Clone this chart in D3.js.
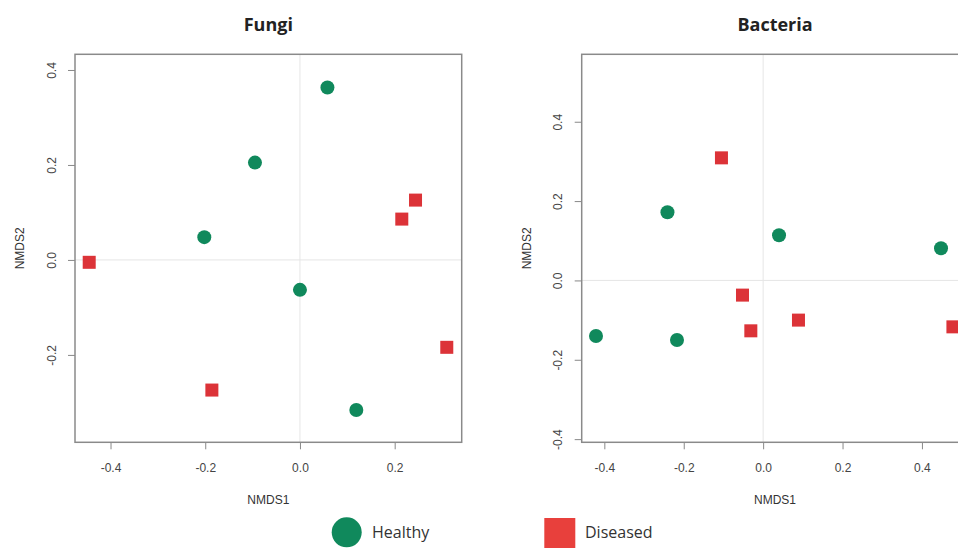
<!DOCTYPE html>
<html>
<head>
<meta charset="utf-8">
<script src="https://cdn.jsdelivr.net/npm/d3@7"></script>
<style>
    body { margin: 0; background: #fff; }
    svg { display: block; }
    .tick text { fill: #444; font-family: "Liberation Sans", Arial, sans-serif; font-size: 12px; }
    .tick line { stroke: #888; }
    .axisLabel { fill: #333; font-family: "Liberation Sans", Arial, sans-serif; font-size: 12px; }
    .title { fill: #222; font-family: "Open Sans", "Liberation Sans", sans-serif; font-weight: bold; font-size: 18px; }
    .legendText { fill: #333; font-family: "Open Sans", sans-serif; font-size: 16px; }
</style>
</head>
<body>
<svg id="chart" width="958" height="548"></svg>
<script>
// NMDS scores: [NMDS1, NMDS2]
var fungiHealthy = [[0.058, 0.363], [-0.095, 0.205], [-0.202, 0.048], [0.0, -0.063], [0.119, -0.316]];
var fungiDiseased = [[-0.445, -0.005], [0.244, 0.126], [0.215, 0.086], [0.31, -0.184], [-0.186, -0.274]];
var bacteriaHealthy = [[-0.241, 0.172], [0.040, 0.114], [0.448, 0.081], [-0.421, -0.140], [-0.217, -0.150]];
var bacteriaDiseased = [[-0.105, 0.309], [-0.052, -0.037], [-0.031, -0.127], [0.089, -0.100], [0.478, -0.117]];

var fungiXTicks = [-0.4, -0.2, 0.0, 0.2];
var fungiYTicks = [-0.2, 0.0, 0.2, 0.4];
var bacteriaXTicks = [-0.4, -0.2, 0.0, 0.2, 0.4];
var bacteriaYTicks = [-0.4, -0.2, 0.0, 0.2, 0.4];

var groups = ["Healthy", "Diseased"];
var green = "#10895c", red = "#dc3338";

var svg = d3.select("#chart");

/**
 * Draws one NMDS panel in R base-graphics style
 */
function drawPanel(p) {
    var x = d3.scaleLinear().domain(p.xDomain).range([p.left, p.right]);
    var y = d3.scaleLinear().domain(p.yDomain).range([p.bottom, p.top]);
    var g = svg.append("g");

    // faint reference lines through the origin
    g.append("line")
        .attr("x1", x(0)).attr("x2", x(0))
        .attr("y1", p.top).attr("y2", p.bottom)
        .attr("stroke", "#e6e6e6").attr("stroke-width", 1);
    g.append("line")
        .attr("x1", p.left).attr("x2", p.right)
        .attr("y1", y(0)).attr("y2", y(0))
        .attr("stroke", "#e6e6e6").attr("stroke-width", 1);

    // axes
    var xAxis = g.append("g")
        .attr("transform", "translate(0," + p.bottom + ")")
        .call(d3.axisBottom(x).tickValues(p.xTicks).tickFormat(d3.format(".1f"))
            .tickSize(7).tickPadding(14).tickSizeOuter(0));
    xAxis.select(".domain").remove();
    xAxis.selectAll("text").text(function(d) { return d3.format(".1f")(d).replace("−", "-"); });

    var yAxis = g.append("g")
        .attr("transform", "translate(" + p.left + ",0)")
        .call(d3.axisLeft(y).tickValues(p.yTicks).tickFormat(d3.format(".1f"))
            .tickSize(7).tickSizeOuter(0));
    yAxis.select(".domain").remove();
    yAxis.selectAll("text")
        .text(function(d) { return d3.format(".1f")(d).replace("−", "-"); })
        .attr("transform", "rotate(-90)")
        .attr("x", 0).attr("y", -19.5).attr("dy", 0)
        .style("text-anchor", "middle");

    // box
    g.append("rect")
        .attr("x", p.left).attr("y", p.top)
        .attr("width", p.right - p.left).attr("height", p.bottom - p.top)
        .attr("fill", "none").attr("stroke", "#8a8a8a").attr("stroke-width", 1.5);

    // points
    g.selectAll(".healthy")
        .data(p.healthy)
        .enter().append("circle")
        .attr("class", "healthy")
        .attr("cx", function(d) { return x(d[0]); })
        .attr("cy", function(d) { return y(d[1]); })
        .attr("r", 7)
        .attr("fill", green);

    g.selectAll(".diseased")
        .data(p.diseased)
        .enter().append("rect")
        .attr("class", "diseased")
        .attr("x", function(d) { return x(d[0]) - 6.5; })
        .attr("y", function(d) { return y(d[1]) - 6.5; })
        .attr("width", 13).attr("height", 13)
        .attr("fill", red);

    // labels
    var cx = (p.left + p.right) / 2, cy = (p.top + p.bottom) / 2;
    g.append("text").attr("class", "title")
        .attr("x", cx).attr("y", 31)
        .attr("text-anchor", "middle")
        .text(p.title);
    g.append("text").attr("class", "axisLabel")
        .attr("x", cx).attr("y", 503.5)
        .attr("text-anchor", "middle")
        .text("NMDS1");
    g.append("text").attr("class", "axisLabel")
        .attr("transform", "translate(" + (p.left - 51) + "," + cy + ") rotate(-90)")
        .attr("text-anchor", "middle")
        .text("NMDS2");
}

drawPanel({
    title: "Fungi",
    left: 75, right: 461.7, top: 54.3, bottom: 442.3,
    xDomain: [-0.475, 0.3415], yDomain: [-0.384, 0.433],
    xTicks: fungiXTicks, yTicks: fungiYTicks,
    healthy: fungiHealthy, diseased: fungiDiseased
});

drawPanel({
    title: "Bacteria",
    left: 581.7, right: 968.4, top: 54.3, bottom: 442.3,
    xDomain: [-0.457, 0.517], yDomain: [-0.408, 0.570],
    xTicks: bacteriaXTicks, yTicks: bacteriaYTicks,
    healthy: bacteriaHealthy, diseased: bacteriaDiseased
});

// legend
var legend = svg.append("g");
legend.append("circle")
    .attr("cx", 346.7).attr("cy", 532.3).attr("r", 15)
    .attr("fill", green);
legend.append("text").attr("class", "legendText")
    .attr("x", 372).attr("y", 538)
    .text(groups[0]);
legend.append("rect")
    .attr("x", 544.3).attr("y", 518).attr("width", 31).attr("height", 31)
    .attr("fill", "#e8403c");
legend.append("text").attr("class", "legendText")
    .attr("x", 585).attr("y", 538)
    .text(groups[1]);
</script>
</body>
</html>
